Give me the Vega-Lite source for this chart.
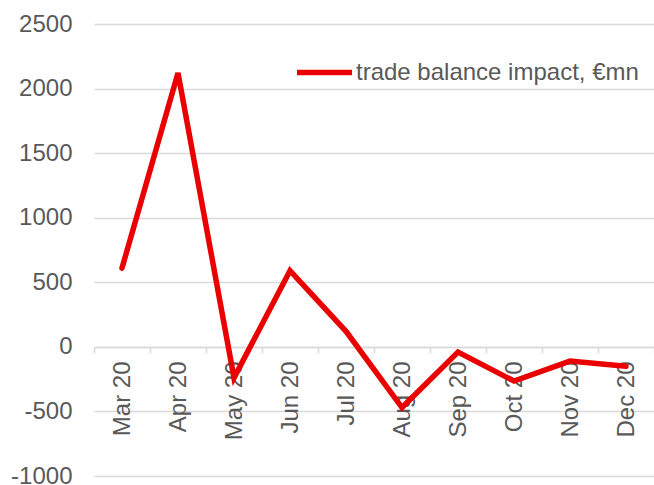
{
  "$schema": "https://vega.github.io/schema/vega-lite/v6.json",
  "autosize": "none",
  "padding": {"left": 94, "top": 24, "right": 0, "bottom": 9},
  "width": 560,
  "height": 452,
  "background": "white",
  "config": {
    "view": {"stroke": null},
    "font": "Liberation Sans"
  },
  "data": {
    "values": [
      {"month": "Mar 20", "value": 610, "series": "trade balance impact, €mn"},
      {"month": "Apr 20", "value": 2120, "series": "trade balance impact, €mn"},
      {"month": "May 20", "value": -240, "series": "trade balance impact, €mn"},
      {"month": "Jun 20", "value": 590, "series": "trade balance impact, €mn"},
      {"month": "Jul 20", "value": 120, "series": "trade balance impact, €mn"},
      {"month": "Aug 20", "value": -470, "series": "trade balance impact, €mn"},
      {"month": "Sep 20", "value": -40, "series": "trade balance impact, €mn"},
      {"month": "Oct 20", "value": -265, "series": "trade balance impact, €mn"},
      {"month": "Nov 20", "value": -110, "series": "trade balance impact, €mn"},
      {"month": "Dec 20", "value": -150, "series": "trade balance impact, €mn"}
    ]
  },
  "mark": {"type": "line", "strokeWidth": 5.5, "strokeCap": "round", "strokeJoin": "miter"},
  "encoding": {
    "x": {
      "field": "month",
      "type": "nominal",
      "sort": null,
      "bandPosition": 0.5,
      "scale": {"type": "band", "paddingInner": 0, "paddingOuter": 0},
      "axis": {
        "title": null,
        "offset": -129,
        "labelAngle": -90,
        "labelFontSize": 24,
        "labelColor": "#595959",
        "labelPadding": 8,
        "domainColor": "#d9d9d9",
        "domainWidth": 1.5,
        "tickColor": "#d9d9d9",
        "tickWidth": 1.5,
        "tickSize": 6,
        "tickBand": "extent",
        "grid": false
      }
    },
    "y": {
      "field": "value",
      "type": "quantitative",
      "scale": {"domain": [-1000, 2500], "nice": false, "zero": false},
      "axis": {
        "title": null,
        "values": [-1000, -500, 0, 500, 1000, 1500, 2000, 2500],
        "labelExpr": "'' + datum.value",
        "grid": true,
        "gridColor": "#d9d9d9",
        "gridWidth": 1.5,
        "domain": false,
        "ticks": false,
        "labelPadding": 22,
        "labelFontSize": 24,
        "labelColor": "#595959"
      }
    },
    "color": {
      "field": "series",
      "type": "nominal",
      "scale": {"range": ["#ea0000"]},
      "legend": {
        "title": null,
        "orient": "none",
        "legendX": 200,
        "legendY": 18,
        "symbolType": "stroke",
        "symbolSize": 3025,
        "symbolStrokeWidth": 5.5,
        "labelFontSize": 24,
        "labelColor": "#595959",
        "labelOffset": 1,
        "labelLimit": 400
      }
    }
  }
}
